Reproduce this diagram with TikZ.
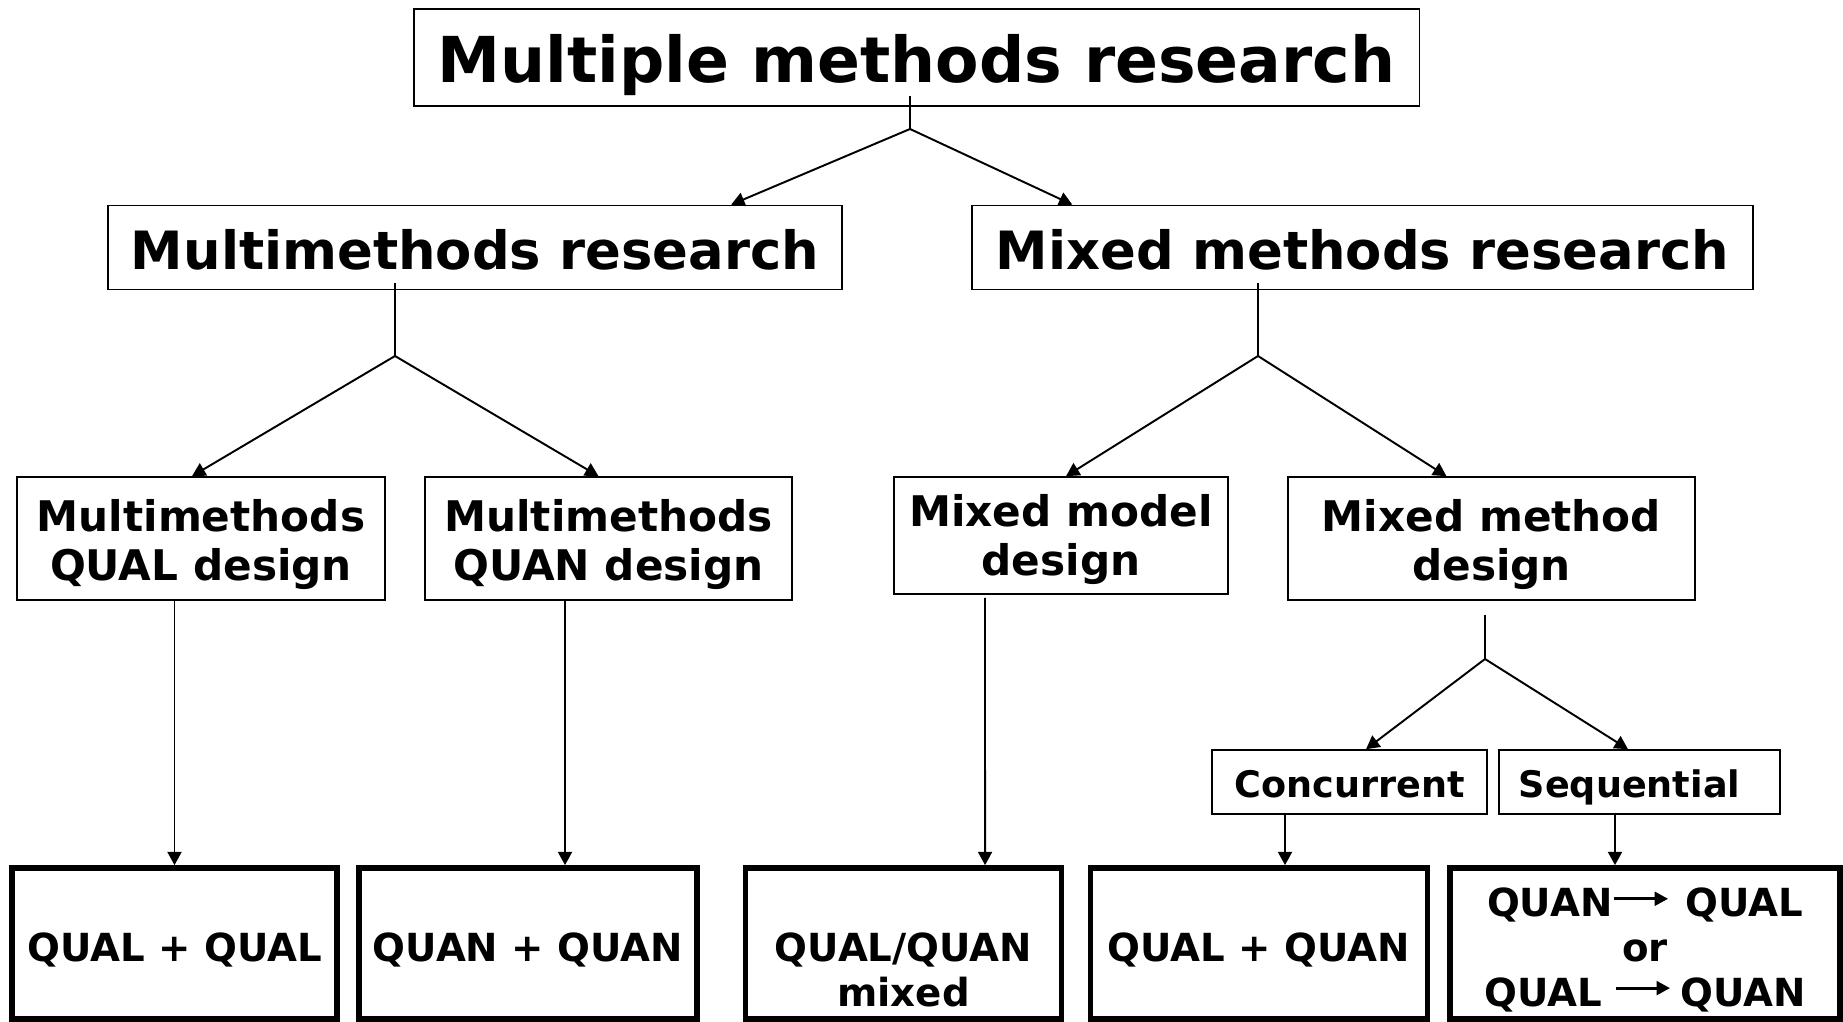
\documentclass[tikz,border=0pt]{standalone}
\usepackage{fontspec}
\setmainfont{DejaVu Sans}
\usetikzlibrary{arrows.meta}

\newcommand{\thenarrow}{\tikz[baseline=-5.1pt]\draw[line width=0.8pt,-{Triangle[length=3.8pt,width=3.9pt]}] (0pt,0pt) -- (15.4pt,0pt);}

\begin{document}
\begin{tikzpicture}[x=0.01cm,y=-0.01cm,
	every node/.style={draw=black,line width=0.45pt,inner sep=0pt,align=center},
	titlebox/.style={minimum height=0.97cm,text height=0.5cm,text depth=0pt,font=\fontsize{18}{22}\selectfont\bfseries},
	bigbox/.style={minimum height=0.84cm,text height=0.44cm,text depth=0pt,font=\fontsize{15}{18}\selectfont\bfseries},
	midbox/.style={minimum height=1.23cm,text height=0.83cm,text depth=0pt,font=\fontsize{12}{13.9}\selectfont\bfseries},
	smallbox/.style={minimum height=0.64cm,text height=0.3cm,text depth=0pt,font=\fontsize{10.4}{12}\selectfont\bfseries},
	thickbox/.style={line width=1.6pt,minimum height=1.51cm,text height=0.36cm,text depth=0pt,font=\fontsize{11}{12.7}\selectfont\bfseries},
	link/.style={line width=0.55pt},
	arr/.style={line width=0.55pt,-{Triangle[length=3.8pt,width=4pt]}}]

	\useasboundingbox (0,0) rectangle (1843,1022);

	\node[titlebox,minimum width=10.05cm] (mult) at (916.5,57.5) {Multiple methods research};

	\node[bigbox,minimum width=7.34cm] (mmr) at (475,247.5) {Multimethods research};
	\node[bigbox,minimum width=7.81cm] (mxr) at (1362.5,247.5) {Mixed methods research};

	\node[midbox,minimum width=3.68cm] (mmqual) at (201,538.5) {Multimethods\\QUAL design};
	\node[midbox,minimum width=3.67cm] (mmquan) at (608.5,538.5) {Multimethods\\QUAN design};
	\node[midbox,minimum width=3.34cm,minimum height=1.17cm,text height=0.79cm] (mmodel) at (1061,535.5) {Mixed model\\design};
	\node[midbox,minimum width=4.07cm] (mmethod) at (1491.5,538.5) {Mixed method\\design};

	\node[smallbox,minimum width=2.75cm] (conc) at (1349.5,782) {Concurrent};
	\node[smallbox,minimum width=2.81cm] (seq) at (1639.5,782) {Sequential\hspace{0.2cm}};

	\node[thickbox,minimum width=3.25cm] (qq) at (174.5,943.5) {QUAL + QUAL};
	\node[thickbox,minimum width=3.38cm] (nn) at (528,943.5) {QUAN + QUAN};
	\node[thickbox,minimum width=3.16cm,text height=1.25cm] (qmix) at (903.5,943.5) {QUAL/QUAN\\mixed};
	\node[thickbox,minimum width=3.37cm] (qn) at (1259,943.5) {QUAL + QUAN};
	\node[thickbox,minimum width=3.9cm,text height=1.25cm] (seqres) at (1645,943.5)
		{QUAN\thenarrow\hspace{4.5pt}QUAL\\or\\QUAL\hspace{3.5pt}\thenarrow\hspace{2.5pt}QUAN};

	\coordinate (j1) at (910,129);
	\coordinate (j2) at (395,356);
	\coordinate (j3) at (1258,356);
	\coordinate (j4) at (1485,659);

	\draw[link] ([yshift=0.11cm]mult.south -| j1) -- (j1);
	\draw[arr] (j1) -- ([xshift=2.56cm]mmr.north);
	\draw[arr] (j1) -- ([xshift=-2.9cm]mxr.north);

	\draw[link] ([yshift=0.07cm]mmr.south -| j2) -- (j2);
	\draw[arr] (j2) -- ([xshift=-0.09cm]mmqual.north);
	\draw[arr] (j2) -- ([xshift=-0.1cm]mmquan.north);

	\draw[link] ([yshift=0.07cm]mxr.south -| j3) -- (j3);
	\draw[arr] (j3) -- ([xshift=0.05cm]mmodel.north);
	\draw[arr] (j3) -- ([xshift=-0.45cm]mmethod.north);

	\draw[arr] (qq.north |- mmqual.south) -- (qq.north);
	\draw[arr] ([xshift=-0.435cm]mmquan.south) -- ([xshift=0.37cm]nn.north);
	\draw[arr] ([xshift=-0.76cm,yshift=-0.03cm]mmodel.south) -- ([xshift=0.815cm]qmix.north);

	\draw[link] ([yshift=-0.14cm]mmethod.south -| j4) -- (j4);
	\draw[arr] (j4) -- ([xshift=0.165cm]conc.north);
	\draw[arr] (j4) -- ([xshift=-0.115cm]seq.north);
	\draw[arr] ([xshift=-0.645cm]conc.south) -- ([xshift=0.26cm]qn.north);
	\draw[arr] ([xshift=-0.245cm]seq.south) -- ([xshift=-0.3cm]seqres.north);
\end{tikzpicture}
\end{document}
